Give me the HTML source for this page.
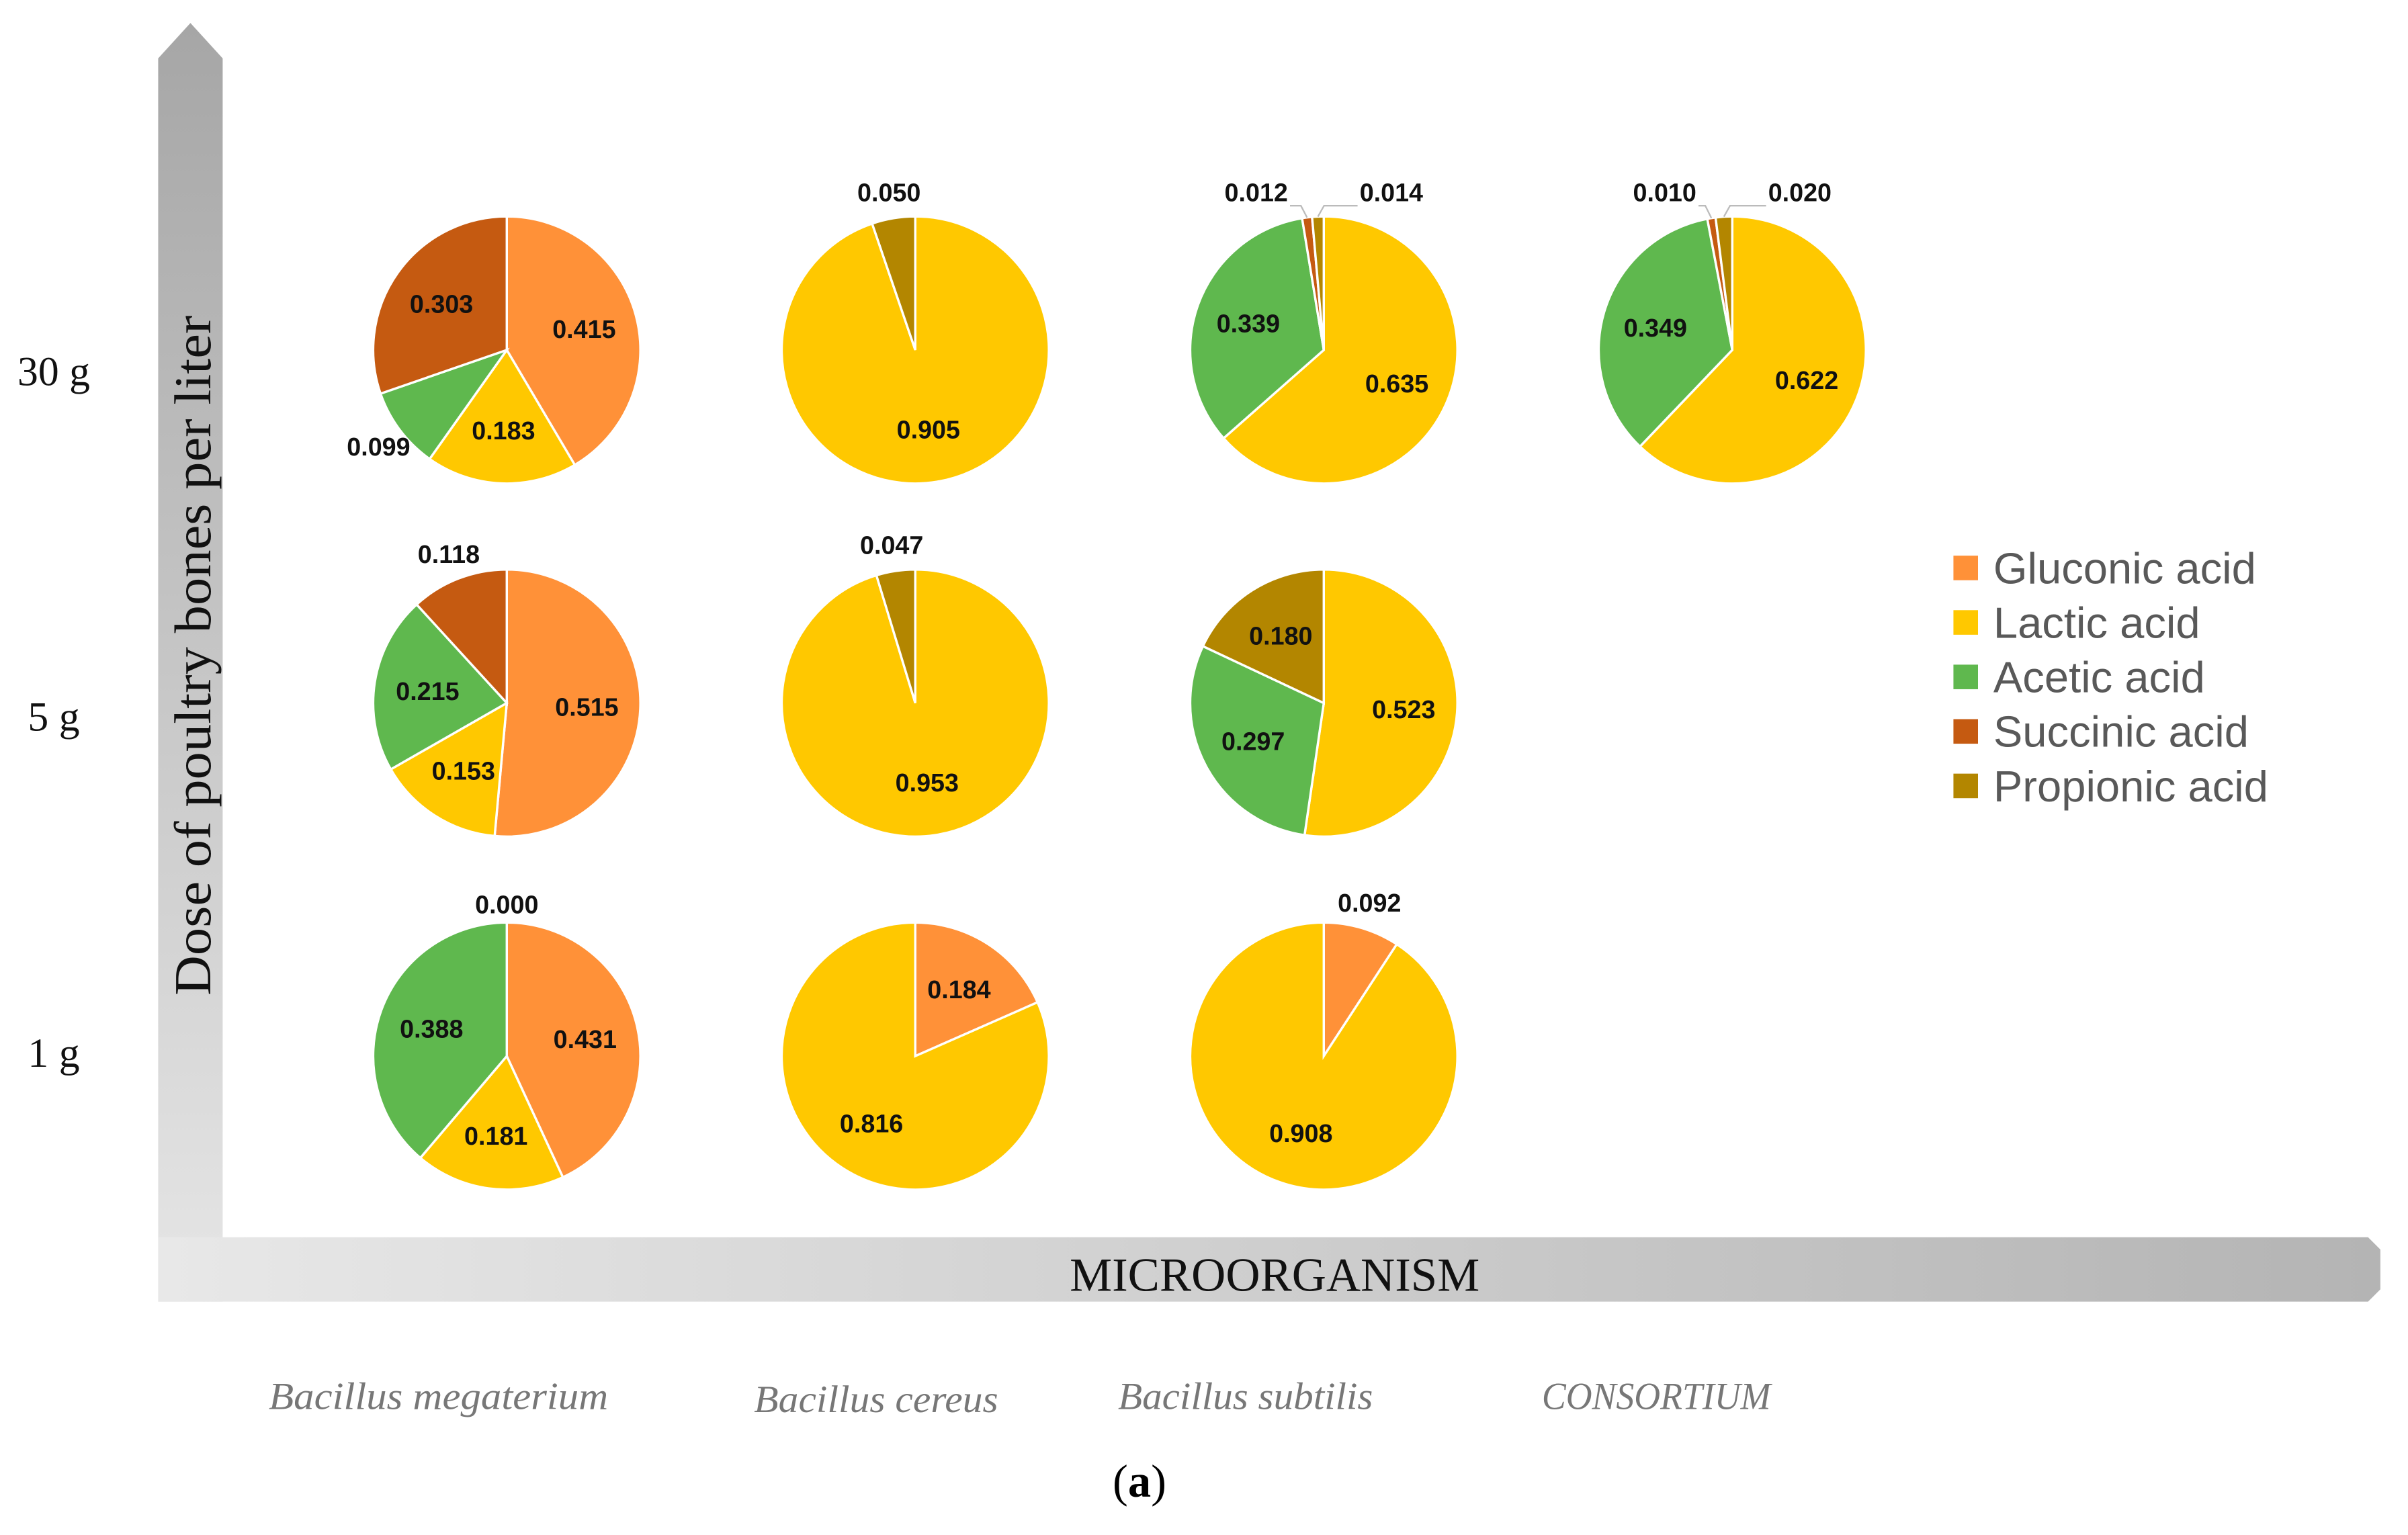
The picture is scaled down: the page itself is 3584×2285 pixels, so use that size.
<!DOCTYPE html>
<html><head><meta charset="utf-8">
<style>
html,body{margin:0;padding:0;background:#fff;}
svg{display:block;}
</style></head>
<body>
<svg id="chart" xmlns="http://www.w3.org/2000/svg" width="3584" height="2285" viewBox="0 0 1568 1000" preserveAspectRatio="none">
<defs>
<linearGradient id="gv" x1="0" y1="0" x2="0" y2="1"><stop offset="0" stop-color="#a6a6a6"/><stop offset="1" stop-color="#e6e6e6"/></linearGradient>
<linearGradient id="gh" x1="0" y1="0" x2="1" y2="0"><stop offset="0" stop-color="#e8e8e8"/><stop offset="1" stop-color="#b4b4b4"/></linearGradient>
</defs>
<path d="M103,38 L124,15 L145,38 L145,848 L103,848 Z" fill="url(#gv)"/>
<path d="M103,806 L1542,806 L1550,814 L1550,840 L1542,848 L103,848 Z" fill="url(#gh)"/>
<text x="830" y="841" text-anchor="middle" font-family="Liberation Serif, serif" font-size="31" fill="#111">MICROORGANISM</text>
<text transform="translate(137,427) rotate(-90)" text-anchor="middle" font-family="Liberation Serif, serif" font-size="34" textLength="443" lengthAdjust="spacingAndGlyphs" fill="#111">Dose of poultry bones per liter</text>
<text x="742" y="975" text-anchor="middle" font-family="Liberation Serif, serif" font-size="30" fill="#000">(<tspan font-weight="bold">a</tspan>)</text>
<g id="labels"></g>
<g id="pies"></g>
<g id="legend"></g>
</svg>
<script>
const NS='http://www.w3.org/2000/svg';
const seriesNames=['Gluconic acid','Lactic acid','Acetic acid','Succinic acid','Propionic acid'];
const seriesColors=['#FF9138','#FFC800','#5FB84E','#C55A11','#B38600'];
const columns=['Bacillus megaterium','Bacillus cereus','Bacillus subtilis','CONSORTIUM'];
const rows=['30 g','5 g','1 g'];
// values per cell: [gluconic, lactic, acetic, succinic, propionic]; null = no pie
const row30=[[0.415,0.183,0.099,0.303,0],[0,0.905,0,0,0.050],[0,0.635,0.339,0.012,0.014],[0,0.622,0.349,0.010,0.020]];
const row5=[[0.515,0.153,0.215,0.118,0],[0,0.953,0,0,0.047],[0,0.523,0.297,0,0.180],null];
const row1=[[0.431,0.181,0.388,0.000,null],[0.184,0.816,0,0,0],[0.092,0.908,0,0,0],null];
const grid=[row30,row5,row1];

const colX=c=>330+c*266;
const rowY=r=>228+r*230;
const R=87;
const rowLabelY=[251,476,695];
const colLabelX=[175,491,728,1004];
const colLabelW=[221,159,166,149];
const colLabelY=[918,920,918,918];
function mk(tag,attrs,parent){const e=document.createElementNS(NS,tag);for(const k in attrs)e.setAttribute(k,attrs[k]);parent.appendChild(e);return e;}
const gL=document.getElementById('labels'),gP=document.getElementById('pies'),gG=document.getElementById('legend');

rows.forEach((t,r)=>{
  const e=mk('text',{x:35,y:rowLabelY[r],'text-anchor':'middle','font-family':'Liberation Serif, serif','font-size':27,fill:'#111'},gL);
  e.textContent=t;
  
  
});
columns.forEach((t,c)=>{
  const e=mk('text',{x:colLabelX[c],y:colLabelY[c],'font-family':'Liberation Serif, serif','font-size':25,'font-style':'italic',fill:'#777',textLength:colLabelW[c],lengthAdjust:'spacingAndGlyphs'},gL);
  e.textContent=t;
  
  
});

function pt(cx,cy,rr,a){return [cx+rr*Math.sin(a),cy-rr*Math.cos(a)];}
grid.forEach((row,r)=>row.forEach((vals,c)=>{
  if(!vals)return;
  const cx=colX(c),cy=rowY(r);
  const tot=vals.reduce((s,v)=>s+(v||0),0);
  const g=mk('g',{},gP);
  
  
  let a=0;const tinies=[];
  vals.forEach((v,i)=>{
    if(v===null)return;
    const sweep=tot?v/tot*2*Math.PI:0;
    const a0=a,a1=a+sweep;a=a1;
    if(sweep>0){
      const p0=pt(cx,cy,R,a0),p1=pt(cx,cy,R,a1);
      const d=sweep>=2*Math.PI-1e-6?`M${cx},${cy-R}A${R},${R} 0 1 1 ${cx-0.01},${cy-R}Z`:
        `M${cx},${cy}L${p0[0]},${p0[1]}A${R},${R} 0 ${sweep>Math.PI?1:0} 1 ${p1[0]},${p1[1]}Z`;
      const s=mk('path',{d:d,fill:seriesColors[i],stroke:'#fff','stroke-width':1.5},g);
      
      
    }
    if(v===0)return;
    const mid=(a0+a1)/2;let lx,ly;
    if(v<0.03){tinies.push({mid,v});return;}
    if(v<0.13){[lx,ly]=pt(cx,cy,R*1.2,mid);}
    else{[lx,ly]=pt(cx,cy,R*0.6,mid);}
    const t=mk('text',{x:lx,y:ly+6,'text-anchor':'middle','font-family':'Liberation Sans Narrow, Liberation Sans, sans-serif','font-weight':'bold','font-size':16.5,fill:'#111'},g);
    t.textContent=v.toFixed(3);
    
    
  });
  if(vals[3]===0&&vals[4]===null){
    const t=mk('text',{x:cx,y:cy-R-6,'text-anchor':'middle','font-family':'Liberation Sans Narrow, Liberation Sans, sans-serif','font-weight':'bold','font-size':16.5,fill:'#111'},g);
    t.textContent=(0).toFixed(3);
    
    
  }
  tinies.forEach((o,k)=>{
    const side=k===0?-1:1;
    const lx=cx+side*44,ly=cy-R-10;
    const [ex,ey]=pt(cx,cy,R,o.mid);
    const ln=mk('polyline',{points:`${ex},${ey} ${ex+side*4},${ly+3} ${lx-side*22},${ly+3}`,fill:'none',stroke:'#bbb','stroke-width':1},g);
    
    
    const t=mk('text',{x:lx,y:ly,'text-anchor':'middle','font-family':'Liberation Sans Narrow, Liberation Sans, sans-serif','font-weight':'bold','font-size':16.5,fill:'#111'},g);
    t.textContent=o.v.toFixed(3);
    
    
  });
}));

seriesNames.forEach((n,i)=>{
  const g=mk('g',{},gG);
  
  
  const y=370+i*35.5;
  mk('rect',{x:1272,y:y-8,width:16,height:16,fill:seriesColors[i]},g);
  const t=mk('text',{x:1298,y:y+10,'font-family':'Liberation Sans, sans-serif','font-size':28.5,fill:'#595959'},g);
  t.textContent=n;
});
</script>
</body></html>
